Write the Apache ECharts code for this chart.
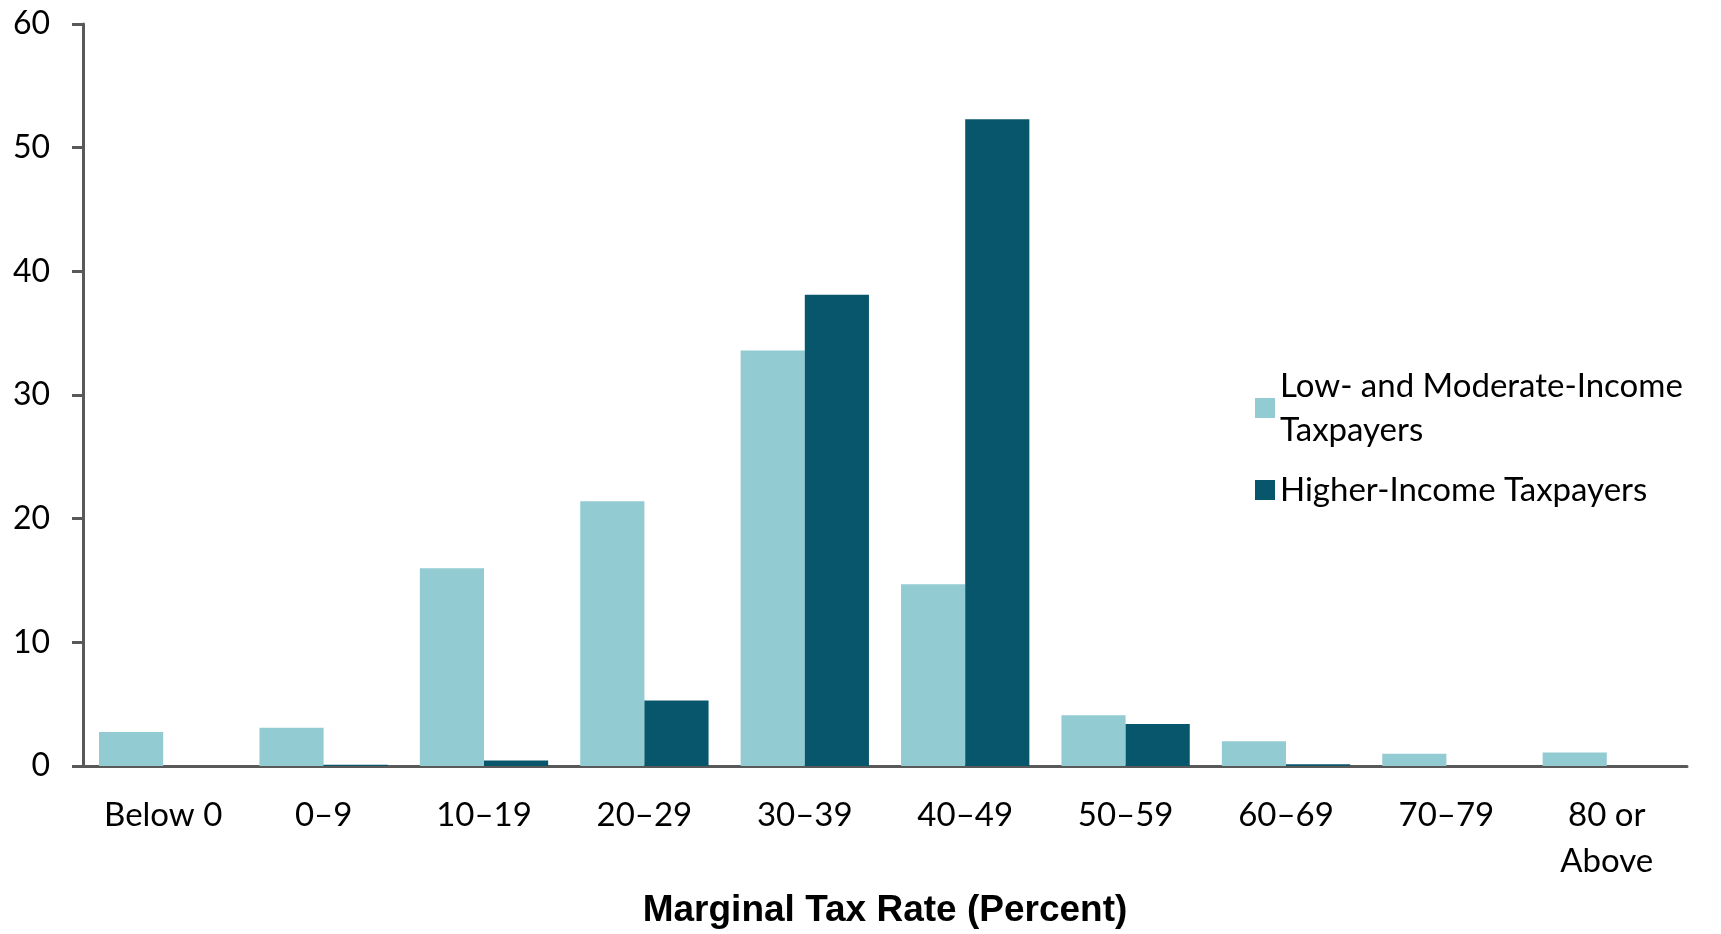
<!DOCTYPE html>
<html>
<head>
<meta charset="utf-8">
<style>
  html, body { margin: 0; padding: 0; background: #fff; }
  #chart { width: 1721px; height: 934px; }
</style>
<script src="https://cdn.jsdelivr.net/npm/echarts@6/dist/echarts.min.js"></script>
</head>
<body>
<div id="chart"></div>
<script>
// categories along the x axis
var categories = ['Below 0', '0–9', '10–19', '20–29', '30–39', '40–49', '50–59', '60–69', '70–79', '80 or\nAbove'];
// share of taxpayers (percent) in each bracket
var lowModerate = [2.75, 3.1, 16.0, 21.4, 33.6, 14.7, 4.1, 2.0, 1.0, 1.1];
var higher = [0, 0.1, 0.45, 5.3, 38.1, 52.3, 3.4, 0.15, 0, 0];
var yTicks = [0, 10, 20, 30, 40, 50, 60];

var seriesNames = ['Low- and Moderate-Income Taxpayers', 'Higher-Income Taxpayers'];
var FONT = 'Lato, "Open Sans", sans-serif';
var AXIS_COLOR = '#595959';

var chart = echarts.init(document.getElementById('chart'), null, { renderer: 'canvas' });

var option = {
    animation: false,
    grid: {
        left: 83,
        right: 34,
        top: 24,
        bottom: 167,
        containLabel: false
    },
    legend: {
        orient: 'vertical',
        left: 1250,
        top: 337,
        itemWidth: 20,
        itemHeight: 20,
        itemGap: -6,
        icon: 'rect',
        selectedMode: false,
        textStyle: {
            fontFamily: FONT,
            fontSize: 33,
            color: '#000',
            lineHeight: 44
        },
        data: [
            {
                name: seriesNames[0],
                // extra top padding so the icon lines up with the first line
                textStyle: { padding: [44, 0, 0, 0] }
            },
            { name: seriesNames[1] }
        ],
        formatter: function (name) {
            if (name === seriesNames[0]) {
                return 'Low- and Moderate-Income\nTaxpayers';
            }
            return name;
        }
    },
    xAxis: {
        type: 'category',
        data: categories,
        axisTick: { show: false },
        axisLine: {
            lineStyle: { color: AXIS_COLOR, width: 3 }
        },
        axisLabel: {
            interval: 0,
            margin: 26,
            fontFamily: FONT,
            fontSize: 33,
            lineHeight: 46,
            color: '#000'
        },
        name: 'Marginal Tax Rate (Percent)',
        nameLocation: 'middle',
        nameGap: 126,
        nameTextStyle: {
            fontFamily: '"Liberation Sans", Arial, sans-serif',
            fontWeight: 'bold',
            fontSize: 37,
            color: '#000',
            verticalAlign: 'top'
        }
    },
    yAxis: {
        type: 'value',
        min: yTicks[0],
        max: yTicks[yTicks.length - 1],
        interval: 10,
        splitLine: { show: false },
        axisLine: {
            show: true,
            lineStyle: { color: AXIS_COLOR, width: 3 }
        },
        axisTick: {
            show: true,
            length: 11,
            lineStyle: { color: AXIS_COLOR, width: 3 }
        },
        axisLabel: {
            margin: 33,
            fontFamily: FONT,
            fontSize: 32,
            color: '#000'
        }
    },
    series: [
        {
            name: seriesNames[0],
            type: 'bar',
            data: lowModerate,
            barGap: '0%',
            barCategoryGap: '20%',
            itemStyle: { color: '#92CBD2' }
        },
        {
            name: seriesNames[1],
            type: 'bar',
            data: higher,
            barGap: '0%',
            barCategoryGap: '20%',
            itemStyle: { color: '#08566C' }
        }
    ]
};

chart.setOption(option);
</script>
</body>
</html>
